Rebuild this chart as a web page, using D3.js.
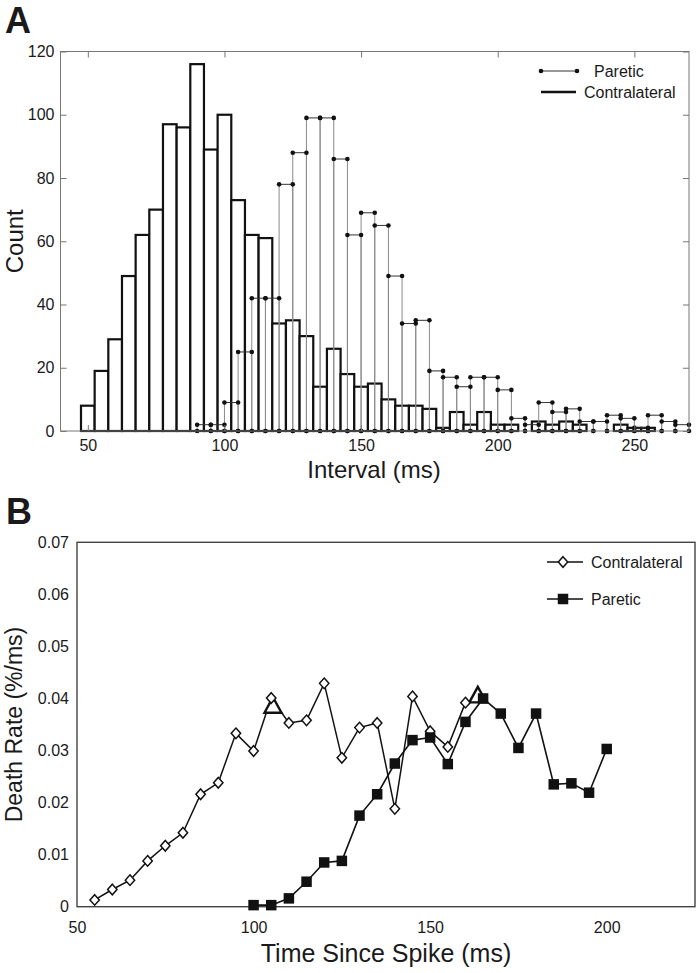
<!DOCTYPE html>
<html><head><meta charset="utf-8">
<script src="https://cdn.jsdelivr.net/npm/d3@7"></script>
<style>
body{margin:0;background:#fff}
svg{display:block}
text{font-family:"Liberation Sans",Arial,Helvetica,sans-serif;fill:#1a1a1a}
</style>
</head><body>
<svg id="c" width="697" height="973"></svg>
<script>
// ---------- Panel A data ----------
const contraBinCenters = [50,55,60,65,70,75,80,85,90,95,100,105,110,115,120,125,130,135,140,145,150,155,160,165,170,175,180,185,190,195,200,205,210,215,220,225,230,235,240,245,250,255,260,265];
const contraCounts     = [8,19,29,49,62,70,97,96,116,89,100,73,62,61,34,35,30,14,26,18,14,15,10,8,8,7,1,6,2,6,2,2,0,3,2,3,2,0,0,2,1,1,0,0];
const pareticBinStarts = [90,95,100,105,110,115,120,125,130,135,140,145,150,155,160,165,170,175,180,185,190,195,200,205,210,215,220,225,230,235,240,245,250,255,260,265];
const pareticCounts    = [2,2,9,25,42,42,78,88,99,99,86,62,69,65,49,34,35,19,17,14,17,17,13,4,2,9,6,7,3,3,5,4,1,5,3,2];
const xTicksA = [50,100,150,200,250];
const yTicksA = [0,20,40,60,80,100,120];
const legendA = ["Paretic","Contralateral"];

// ---------- Panel B data ----------
const contraTimes = [55,60,65,70,75,80,85,90,95,100,105,110,115,120,125,130,135,140,145,150,155,160];
const contraRates = [0.0013,0.0033,0.0051,0.0088,0.0117,0.0142,0.0216,0.0238,0.0333,0.0299,0.0401,0.0353,0.0358,0.0429,0.0286,0.0344,0.0353,0.0188,0.0404,0.0337,0.0307,0.0392];
const pareticTimes = [100,105,110,115,120,125,130,135,140,145,150,155,160,165,170,175,180,185,190,195,200];
const pareticRates = [0.0003,0.0003,0.0016,0.0048,0.0085,0.0088,0.0175,0.0216,0.0275,0.0320,0.0325,0.0274,0.0355,0.0400,0.0371,0.0305,0.0371,0.0235,0.0237,0.0219,0.0303];
const peakTimes = [105.5,163.5];
const peakRates = [0.0385,0.0405];
const xTicksB = [50,100,150,200];
const yTicksB = [0,0.01,0.02,0.03,0.04,0.05,0.06,0.07];
const legendB = ["Contralateral","Paretic"];

const svg = d3.select("#c");
const BIN = 5;

// ================= Panel A =================
const xA = d3.scaleLinear().domain([40,270]).range([60.5,689]);
const yA = d3.scaleLinear().domain([0,120]).range([431,51.5]);
const gA = svg.append("g");

// contralateral histogram bars
gA.append("g").selectAll("rect").data(contraBinCenters).join("rect")
  .attr("x", (c)=>xA(c-BIN/2))
  .attr("width", (c)=>xA(c+BIN/2)-xA(c-BIN/2))
  .attr("y", (c,i)=>yA(contraCounts[i]))
  .attr("height", (c,i)=>yA(0)-yA(contraCounts[i]))
  .attr("fill","#fff").attr("stroke","#111").attr("stroke-width",2.2);

// paretic outline histogram with dots
const gP = gA.append("g");
pareticBinStarts.forEach((s,i)=>{
  const h = pareticCounts[i];
  const x0 = xA(s), x1 = xA(s+BIN), y0 = yA(0), y1 = yA(h);
  gP.append("line").attr("x1",x0).attr("x2",x0).attr("y1",y0).attr("y2",y1).attr("stroke","#8a8a8a").attr("stroke-width",1);
  gP.append("line").attr("x1",x1).attr("x2",x1).attr("y1",y0).attr("y2",y1).attr("stroke","#8a8a8a").attr("stroke-width",1);
  gP.append("line").attr("x1",x0).attr("x2",x1).attr("y1",y1).attr("y2",y1).attr("stroke","#333").attr("stroke-width",1);
});
pareticBinStarts.forEach((s,i)=>{
  const h = pareticCounts[i];
  [[s,h],[s+BIN,h],[s,0],[s+BIN,0]].forEach(p=>{
    gP.append("circle").attr("cx",xA(p[0])).attr("cy",yA(p[1])).attr("r",2.3).attr("fill","#111");
  });
});

// axes A (inward ticks, box)
const axA = gA.append("g");
axA.append("rect").attr("x",xA(40)).attr("y",yA(120)).attr("width",xA(270)-xA(40)).attr("height",yA(0)-yA(120))
  .attr("fill","none").attr("stroke","#777").attr("stroke-width",1);
const bA = axA.append("g").attr("transform",`translate(0,${yA(0)})`)
  .call(d3.axisBottom(xA).tickValues(xTicksA).tickSize(-6).tickPadding(9));
const tA = axA.append("g").attr("transform",`translate(0,${yA(120)})`)
  .call(d3.axisTop(xA).tickValues(xTicksA).tickSize(-6).tickFormat(""));
const lA = axA.append("g").attr("transform",`translate(${xA(40)},0)`)
  .call(d3.axisLeft(yA).tickValues(yTicksA).tickSize(-6).tickPadding(6));
const rA = axA.append("g").attr("transform",`translate(${xA(270)},0)`)
  .call(d3.axisRight(yA).tickValues(yTicksA).tickSize(-6).tickFormat(""));
[bA,tA,lA,rA].forEach(g=>{
  g.select(".domain").remove();
  g.selectAll(".tick line").attr("stroke","#777");
  g.selectAll("text").attr("font-size",16).attr("fill","#1a1a1a").attr("font-family",null);
});

// legend A
const lgA = gA.append("g");
lgA.append("line").attr("x1",541).attr("x2",577).attr("y1",71).attr("y2",71).attr("stroke","#333").attr("stroke-width",1);
lgA.append("circle").attr("cx",541).attr("cy",71).attr("r",2.3).attr("fill","#111");
lgA.append("circle").attr("cx",577).attr("cy",71).attr("r",2.3).attr("fill","#111");
lgA.append("text").attr("x",594).attr("y",77).attr("font-size",16).text(legendA[0]);
lgA.append("line").attr("x1",541).attr("x2",576).attr("y1",92).attr("y2",92).attr("stroke","#111").attr("stroke-width",2.4);
lgA.append("text").attr("x",584).attr("y",98).attr("font-size",16).text(legendA[1]);

// titles A
gA.append("text").attr("x",374).attr("y",478).attr("text-anchor","middle").attr("font-size",24).text("Interval (ms)");
gA.append("text").attr("transform",`translate(23,${(yA(0)+yA(120))/2}) rotate(-90)`).attr("text-anchor","middle").attr("font-size",24).text("Count");
gA.append("text").attr("x",5).attr("y",33).attr("font-size",36).attr("font-weight","bold").text("A");

// ================= Panel B =================
const xB = d3.scaleLinear().domain([50,225]).range([77,695]);
const yB = d3.scaleLinear().domain([0,0.07]).range([906.7,542.3]);
const gB = svg.append("g");

gB.append("rect").attr("x",xB(50)).attr("y",yB(0.07)).attr("width",xB(225)-xB(50)).attr("height",yB(0)-yB(0.07))
  .attr("fill","none").attr("stroke","#444").attr("stroke-width",1.4);

const lxB = gB.append("g").attr("transform",`translate(0,${yB(0)})`)
  .call(d3.axisBottom(xB).tickValues(xTicksB).tickSize(0).tickPadding(15));
const lyB = gB.append("g").attr("transform",`translate(${xB(50)},0)`)
  .call(d3.axisLeft(yB).tickValues(yTicksB).tickSize(0).tickPadding(8)
    .tickFormat(d=> d===0 ? "0" : d3.format(".2f")(d)));
[lxB,lyB].forEach(g=>{
  g.select(".domain").remove();
  g.selectAll("text").attr("font-size",16).attr("fill","#1a1a1a").attr("font-family",null);
});

const line = d3.line();
gB.append("path")
  .attr("d", line(contraTimes.map((t,i)=>[xB(t),yB(contraRates[i])])))
  .attr("fill","none").attr("stroke","#111").attr("stroke-width",1.5);
gB.append("path")
  .attr("d", line(pareticTimes.map((t,i)=>[xB(t),yB(pareticRates[i])])))
  .attr("fill","none").attr("stroke","#111").attr("stroke-width",1.6);

// peak triangles
const triPath = "M0,-9L8.5,6.5L-8.5,6.5Z";
gB.append("g").selectAll("path").data(peakTimes).join("path")
  .attr("transform",(t,i)=>`translate(${xB(t)},${yB(peakRates[i])})`)
  .attr("d",triPath).attr("fill","#fff").attr("stroke","#111").attr("stroke-width",2.4).attr("stroke-linejoin","miter");

const diamond = "M0,-5.3L4.7,0L0,5.3L-4.7,0Z";
gB.append("g").selectAll("path").data(contraTimes).join("path")
  .attr("transform",(t,i)=>`translate(${xB(t)},${yB(contraRates[i])})`)
  .attr("d",diamond).attr("fill","#fff").attr("stroke","#111").attr("stroke-width",1.5);
const SQ = 10.5;
gB.append("g").selectAll("rect").data(pareticTimes).join("rect")
  .attr("x",(t)=>xB(t)-SQ/2).attr("y",(t,i)=>yB(pareticRates[i])-SQ/2)
  .attr("width",SQ).attr("height",SQ).attr("fill","#111");

// legend B
const lgB = gB.append("g");
lgB.append("line").attr("x1",547).attr("x2",583).attr("y1",562).attr("y2",562).attr("stroke","#111").attr("stroke-width",1.5);
lgB.append("path").attr("transform","translate(563,562)").attr("d",diamond).attr("fill","#fff").attr("stroke","#111").attr("stroke-width",1.5);
lgB.append("text").attr("x",591).attr("y",568).attr("font-size",16).text(legendB[0]);
lgB.append("line").attr("x1",547).attr("x2",583).attr("y1",599).attr("y2",599).attr("stroke","#111").attr("stroke-width",1.6);
lgB.append("rect").attr("x",563-SQ/2).attr("y",599-SQ/2).attr("width",SQ).attr("height",SQ).attr("fill","#111");
lgB.append("text").attr("x",591).attr("y",605).attr("font-size",16).text(legendB[1]);

// titles B
gB.append("text").attr("x",(xB(50)+xB(225))/2).attr("y",962).attr("text-anchor","middle").attr("font-size",25).text("Time Since Spike (ms)");
gB.append("text").attr("transform",`translate(22,${(yB(0)+yB(0.07))/2}) rotate(-90)`).attr("text-anchor","middle").attr("font-size",23).text("Death Rate (%/ms)");
gB.append("text").attr("x",6).attr("y",524).attr("font-size",36).attr("font-weight","bold").text("B");
</script>
</body></html>
